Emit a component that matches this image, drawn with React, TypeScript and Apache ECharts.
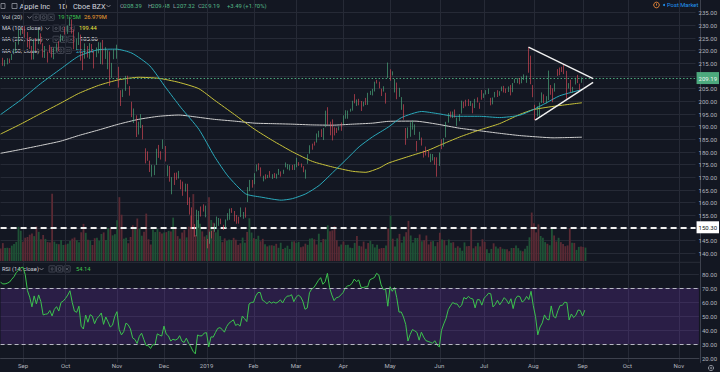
import React, { useEffect, useRef } from "react";
import * as echarts from "echarts";

// ---------- categories: trading days (data until 2019-09-04, then empty future bars) ----------
const tradingDays: [string, number[]][] = [
  ["2018-08", [20, 21, 22, 23, 24, 27, 28, 29, 30, 31]],
  ["2018-09", [4, 5, 6, 7, 10, 11, 12, 13, 14, 17, 18, 19, 20, 21, 24, 25, 26, 27, 28]],
  ["2018-10", [1, 2, 3, 4, 5, 8, 9, 10, 11, 12, 15, 16, 17, 18, 19, 22, 23, 24, 25, 26, 29, 30, 31]],
  ["2018-11", [1, 2, 5, 6, 7, 8, 9, 12, 13, 14, 15, 16, 19, 20, 21, 23, 26, 27, 28, 29, 30]],
  ["2018-12", [3, 4, 6, 7, 10, 11, 12, 13, 14, 17, 18, 19, 20, 21, 24, 26, 27, 28, 31]],
  ["2019-01", [2, 3, 4, 7, 8, 9, 10, 11, 14, 15, 16, 17, 18, 22, 23, 24, 25, 28, 29, 30, 31]],
  ["2019-02", [1, 4, 5, 6, 7, 8, 11, 12, 13, 14, 15, 19, 20, 21, 22, 25, 26, 27, 28]],
  ["2019-03", [1, 4, 5, 6, 7, 8, 11, 12, 13, 14, 15, 18, 19, 20, 21, 22, 25, 26, 27, 28, 29]],
  ["2019-04", [1, 2, 3, 4, 5, 8, 9, 10, 11, 12, 15, 16, 17, 18, 22, 23, 24, 25, 26, 29, 30]],
  ["2019-05", [1, 2, 3, 6, 7, 8, 9, 10, 13, 14, 15, 16, 17, 20, 21, 22, 23, 24, 28, 29, 30, 31]],
  ["2019-06", [3, 4, 5, 6, 7, 10, 11, 12, 13, 14, 17, 18, 19, 20, 21, 24, 25, 26, 27, 28]],
  ["2019-07", [1, 2, 3, 5, 8, 9, 10, 11, 12, 15, 16, 17, 18, 19, 22, 23, 24, 25, 26, 29, 30, 31]],
  ["2019-08", [1, 2, 5, 6, 7, 8, 9, 12, 13, 14, 15, 16, 19, 20, 21, 22, 23, 26, 27, 28, 29, 30]],
  ["2019-09", [3, 4, 5, 6, 9, 10, 11, 12, 13, 16, 17, 18, 19, 20, 23, 24, 25, 26, 27, 30]],
  ["2019-10", [1, 2, 3, 4, 7, 8, 9, 10, 11, 14, 15, 16, 17, 18, 21, 22, 23, 24, 25, 28, 29, 30, 31]],
  ["2019-11", [1, 4, 5, 6, 7, 8, 11, 12, 13, 14]],
];
const dates: string[] = tradingDays.flatMap(([m, days]) =>
  days.map((d) => `${m}-${String(d).padStart(2, "0")}`)
);
const monthNames = ["Jan", "Feb", "Mar", "Apr", "May", "Jun", "Jul", "Aug", "Sep", "Oct", "Nov", "Dec"];

// ---------- daily candles [open, high, low, close] ----------
const ohlc: number[][] = [
  // 2018-08
  [218.10, 219.18, 215.11, 215.46], [216.80, 217.19, 214.03, 215.04], [214.10, 216.36, 213.84, 215.05],
  [214.65, 217.05, 214.60, 215.49], [216.60, 216.90, 215.11, 216.16], [217.15, 218.74, 216.33, 217.94],
  [219.01, 220.54, 218.92, 219.70], [220.15, 223.49, 219.41, 222.98], [223.25, 228.26, 222.40, 225.03],
  [226.51, 228.87, 226.00, 227.63],
  // 2018-09
  [228.41, 229.18, 226.63, 228.36], [228.99, 229.67, 225.10, 226.87], [226.23, 227.35, 221.30, 223.10],
  [221.85, 225.37, 220.71, 221.30], [220.95, 221.85, 216.47, 218.33], [218.01, 224.30, 216.56, 223.85],
  [224.94, 225.00, 219.84, 221.07], [223.52, 228.35, 222.57, 226.41], [225.75, 226.84, 222.52, 223.84],
  [222.15, 222.95, 217.27, 217.88], [217.79, 221.85, 217.12, 218.24], [218.50, 219.62, 215.30, 218.37],
  [220.24, 222.28, 219.15, 220.03], [220.78, 221.36, 217.29, 217.66], [216.82, 221.26, 216.63, 220.79],
  [219.75, 222.82, 219.70, 222.19], [221.00, 223.75, 219.76, 220.42], [223.82, 226.44, 223.54, 224.95],
  [224.79, 225.84, 224.02, 225.74],
  // 2018-10
  [227.95, 229.42, 226.35, 227.26], [227.25, 230.00, 226.63, 229.28], [230.05, 233.47, 229.78, 232.07],
  [230.78, 232.35, 226.73, 227.99], [227.96, 228.41, 220.58, 224.29], [222.21, 224.80, 220.20, 223.77],
  [223.64, 227.27, 222.25, 226.87], [225.46, 226.35, 216.05, 216.36], [214.52, 219.50, 212.32, 214.45],
  [220.42, 222.88, 216.84, 222.11], [221.16, 221.83, 217.27, 217.36], [218.93, 222.99, 216.76, 222.15],
  [222.30, 222.64, 219.34, 221.19], [217.86, 219.74, 213.00, 216.02], [218.06, 221.26, 217.43, 219.31],
  [219.79, 223.36, 218.94, 220.65], [215.83, 223.25, 214.70, 222.73], [222.60, 224.23, 214.54, 215.09],
  [217.71, 221.38, 216.75, 219.80], [215.90, 220.19, 212.67, 216.30], [219.19, 219.69, 206.09, 212.24],
  [211.15, 215.18, 209.27, 213.30], [216.88, 220.45, 216.62, 218.86],
  // 2018-11
  [219.05, 222.36, 216.81, 222.22], [209.55, 213.65, 205.43, 207.48], [204.30, 204.39, 198.17, 201.59],
  [201.92, 204.72, 201.69, 203.77], [205.97, 210.06, 204.13, 209.95], [209.98, 210.12, 206.75, 208.49],
  [205.55, 206.01, 202.25, 204.47], [199.00, 199.85, 193.79, 194.17], [191.63, 197.18, 191.45, 192.23],
  [193.90, 194.48, 185.93, 186.80], [188.39, 191.97, 186.90, 191.41], [190.50, 194.97, 189.46, 193.53],
  [190.00, 190.70, 184.99, 185.86], [178.37, 181.47, 175.51, 176.98], [179.73, 180.27, 176.55, 176.78],
  [174.94, 176.60, 172.10, 172.29], [174.24, 174.95, 170.26, 174.62], [171.51, 174.77, 170.88, 174.24],
  [176.73, 181.29, 174.93, 180.94], [182.66, 182.80, 177.70, 179.55], [180.29, 180.33, 177.03, 178.58],
  // 2018-12
  [184.46, 184.94, 181.21, 184.82], [180.95, 182.39, 176.27, 176.69], [171.76, 174.78, 170.42, 174.72],
  [173.49, 174.49, 168.30, 168.49], [165.00, 170.09, 163.33, 169.60], [171.66, 171.79, 167.00, 168.63],
  [170.40, 171.92, 169.02, 169.10], [170.49, 172.57, 169.55, 170.95], [169.00, 169.08, 165.28, 165.48],
  [165.45, 168.35, 162.73, 163.94], [165.38, 167.53, 164.39, 166.07], [166.00, 167.45, 159.09, 160.89],
  [160.40, 162.11, 155.30, 156.83], [156.86, 158.16, 149.63, 150.73], [148.15, 151.55, 146.59, 146.83],
  [148.30, 157.23, 146.72, 157.17], [155.84, 156.77, 150.07, 156.15], [157.50, 158.52, 154.55, 156.23],
  [158.53, 159.36, 156.48, 157.74],
  // 2019-01
  [154.89, 158.85, 154.23, 157.92], [143.98, 145.72, 142.00, 142.19], [144.53, 148.55, 143.80, 148.26],
  [148.70, 148.83, 145.90, 147.93], [149.56, 151.82, 148.52, 150.75], [151.29, 154.53, 149.63, 153.31],
  [152.50, 153.97, 150.86, 153.80], [152.88, 153.70, 151.51, 152.29], [150.85, 151.27, 149.22, 150.00],
  [150.27, 153.39, 150.05, 153.07], [153.08, 155.88, 153.00, 154.94], [154.20, 157.66, 153.26, 155.86],
  [157.50, 157.88, 155.98, 156.82], [156.41, 156.73, 152.62, 153.30], [154.15, 155.14, 151.70, 153.92],
  [154.11, 154.48, 151.74, 152.70], [155.48, 158.13, 154.32, 157.76], [155.79, 156.33, 153.66, 156.30],
  [156.25, 158.13, 154.11, 154.68], [163.25, 166.15, 160.23, 165.25], [166.11, 169.00, 164.56, 166.44],
  // 2019-02
  [166.96, 168.98, 165.93, 166.52], [167.41, 171.66, 167.28, 171.25], [172.86, 175.08, 172.35, 174.18],
  [174.65, 175.57, 172.85, 174.24], [172.40, 173.94, 170.34, 170.94], [168.99, 170.66, 168.42, 170.41],
  [171.05, 171.21, 169.25, 169.43], [170.10, 171.00, 169.70, 170.89], [171.39, 172.48, 169.92, 170.18],
  [169.71, 171.26, 169.38, 170.80], [171.25, 171.70, 169.75, 170.42], [169.71, 171.44, 169.49, 170.93],
  [171.19, 173.32, 170.99, 172.03], [171.80, 172.37, 170.30, 171.06], [171.58, 173.00, 171.38, 172.97],
  [174.16, 175.87, 173.95, 174.23], [173.71, 175.30, 173.17, 174.33], [173.21, 175.00, 172.73, 174.87],
  [174.32, 174.91, 172.92, 173.15],
  // 2019-03
  [174.28, 175.15, 172.89, 174.97], [175.69, 177.75, 173.97, 175.85], [175.94, 176.00, 174.54, 175.53],
  [174.67, 175.49, 173.94, 174.52], [173.87, 174.44, 172.02, 172.50], [170.32, 173.07, 169.50, 172.91],
  [175.49, 179.12, 175.35, 178.90], [180.00, 182.67, 179.37, 180.91], [182.25, 183.30, 180.92, 181.71],
  [183.90, 184.10, 182.56, 183.73], [184.85, 187.33, 183.74, 186.12], [185.80, 188.39, 185.79, 188.02],
  [188.35, 188.99, 185.92, 186.53], [186.23, 189.49, 184.73, 188.16], [190.02, 196.33, 189.81, 195.09],
  [195.34, 197.69, 190.78, 191.05], [191.51, 191.98, 186.60, 188.74], [191.66, 192.88, 184.58, 186.79],
  [188.75, 189.76, 186.55, 188.47], [188.95, 189.56, 187.53, 188.72], [189.83, 190.08, 188.54, 189.95],
  // 2019-04
  [191.64, 191.68, 188.38, 191.24], [191.09, 194.46, 191.05, 194.02], [193.25, 196.50, 193.15, 195.35],
  [194.79, 196.37, 193.14, 195.69], [196.45, 197.10, 195.93, 197.00], [196.42, 200.23, 196.34, 200.10],
  [200.32, 202.85, 199.23, 199.50], [198.68, 200.74, 198.18, 200.62], [200.85, 201.00, 198.44, 198.95],
  [199.20, 200.14, 196.21, 198.87], [198.58, 199.85, 198.01, 199.23], [199.46, 201.37, 198.56, 199.25],
  [199.54, 203.38, 198.61, 203.13], [203.12, 204.15, 202.52, 203.86], [202.83, 204.94, 202.34, 204.53],
  [204.43, 207.75, 203.90, 207.48], [207.36, 208.48, 207.05, 207.16], [206.83, 207.76, 205.12, 205.28],
  [204.90, 205.00, 202.12, 204.30], [204.40, 205.97, 203.86, 204.61], [203.06, 203.40, 199.11, 200.67],
  // 2019-05
  [209.88, 215.31, 209.23, 210.52], [209.84, 212.65, 208.13, 209.15], [210.89, 211.84, 210.23, 211.75],
  [204.29, 208.84, 203.50, 208.48], [205.88, 207.42, 200.83, 202.86], [201.90, 205.34, 201.75, 202.90],
  [200.40, 201.68, 196.66, 200.72], [197.42, 198.85, 192.77, 197.18], [187.71, 189.48, 182.85, 185.72],
  [186.41, 189.70, 185.41, 188.66], [186.27, 191.75, 186.02, 190.92], [189.91, 192.47, 188.84, 190.08],
  [186.93, 190.90, 186.76, 189.00], [183.52, 184.35, 180.28, 183.09], [185.22, 188.00, 184.70, 186.60],
  [184.66, 185.71, 182.55, 182.78], [179.80, 180.54, 177.81, 179.66], [180.20, 182.14, 178.62, 178.97],
  [178.92, 180.59, 177.91, 178.23], [176.42, 179.35, 176.00, 177.38], [177.95, 179.23, 176.67, 178.30],
  [176.23, 177.99, 174.99, 175.07],
  // 2019-06
  [175.60, 177.92, 170.27, 173.30], [175.44, 179.83, 174.52, 179.64], [184.28, 184.99, 181.14, 182.54],
  [183.08, 185.47, 182.15, 185.22], [186.51, 191.92, 185.77, 190.15], [191.81, 195.37, 191.62, 192.58],
  [194.86, 196.00, 193.60, 194.81], [193.95, 195.97, 193.39, 194.19], [194.70, 196.79, 193.60, 194.15],
  [191.55, 193.59, 190.30, 192.74], [192.90, 194.96, 192.17, 193.89], [196.05, 200.29, 195.21, 198.45],
  [199.68, 199.88, 197.31, 197.87], [200.37, 200.61, 198.03, 199.46], [198.80, 200.85, 198.15, 198.78],
  [198.54, 200.16, 198.17, 198.58], [198.43, 199.26, 195.29, 195.57], [197.77, 200.99, 197.35, 199.80],
  [200.29, 201.57, 199.57, 199.74], [198.68, 199.50, 197.05, 197.92],
  // 2019-07
  [203.17, 204.49, 200.65, 201.55], [201.41, 203.13, 201.36, 202.73], [203.28, 204.44, 202.69, 204.41],
  [203.35, 205.08, 202.90, 204.23], [200.81, 201.40, 198.41, 200.02], [199.20, 201.51, 198.81, 201.24],
  [201.85, 203.73, 201.56, 203.23], [203.31, 204.39, 201.71, 201.75], [202.45, 204.00, 202.20, 203.30],
  [204.09, 205.87, 204.00, 205.21], [204.59, 206.11, 203.50, 204.50], [204.05, 205.09, 203.27, 203.35],
  [204.00, 205.88, 203.70, 205.66], [205.79, 206.50, 202.36, 202.59], [203.65, 207.23, 203.61, 207.22],
  [208.46, 208.91, 207.29, 208.84], [207.67, 209.15, 207.17, 208.67], [208.89, 209.24, 206.73, 207.02],
  [207.48, 209.73, 207.14, 207.74], [208.46, 210.64, 208.44, 209.68], [208.76, 210.16, 207.31, 208.78],
  [216.42, 221.37, 211.30, 213.04],
  // 2019-08
  [213.90, 218.03, 206.74, 208.43], [205.53, 206.43, 201.63, 204.02], [197.99, 198.65, 192.58, 193.34],
  [196.31, 198.07, 194.04, 197.00], [195.41, 199.56, 193.82, 199.04], [200.20, 203.53, 199.39, 203.43],
  [201.30, 202.76, 199.29, 200.99], [199.62, 202.05, 199.15, 200.48], [201.02, 212.14, 200.48, 208.97],
  [203.16, 206.44, 202.59, 202.75], [203.46, 205.14, 199.67, 201.74], [204.28, 207.16, 203.84, 206.50],
  [210.62, 212.73, 210.03, 210.35], [210.88, 213.35, 210.32, 210.36], [212.99, 213.65, 211.60, 212.64],
  [213.19, 214.44, 210.75, 212.46], [209.43, 212.05, 201.00, 202.64], [205.86, 207.19, 205.06, 206.49],
  [207.86, 208.55, 203.53, 204.16], [204.10, 205.72, 203.32, 205.53], [208.50, 209.32, 206.66, 209.01],
  [210.16, 210.45, 207.20, 208.74],
  // 2019-09
  [206.43, 206.98, 204.22, 205.70], [208.39, 209.48, 207.32, 209.19],
];

// ---------- daily volume, millions ----------
const volumes: number[] = [
  18.0, 25.6, 18.5, 18.9, 18.5, 22.0, 24.3, 27.3, 48.8, 43.3,
  27.4, 33.3, 34.3, 37.6, 39.5, 35.6, 49.3, 41.7, 31.0, 37.2, 31.6, 27.1, 26.6, 96.2, 27.7, 24.6, 24.0, 30.2, 22.9,
  23.6, 24.8, 28.6, 32.0, 33.6, 29.7, 26.9, 41.1, 53.1, 40.3, 30.3, 29.2, 22.9, 32.6, 33.1, 28.8, 38.7, 40.9, 29.9, 47.3, 45.9, 36.7, 38.4,
  58.3, 91.3, 66.2, 31.9, 33.2, 25.4, 34.4, 51.1, 46.9, 60.8, 46.5, 36.2, 41.9, 67.8, 31.1, 23.6, 44.9, 41.4, 46.1, 41.8, 39.5,
  40.8, 41.3, 43.1, 42.3, 62.0, 47.3, 35.6, 31.9, 40.7, 44.3, 33.8, 49.0, 64.8, 95.7, 37.2, 58.6, 53.1, 42.3, 35.0,
  37.0, 91.3, 58.6, 54.8, 41.0, 45.1, 35.8, 27.0, 32.4, 28.7, 30.6, 29.8, 33.1, 30.4, 23.1, 25.4, 33.5, 26.2, 41.6, 61.1, 40.7,
  32.7, 31.5, 36.1, 28.2, 31.7, 23.8, 20.9, 22.3, 22.5, 21.8, 24.6, 18.9, 26.1, 17.2, 18.9, 21.9, 17.1, 27.8, 28.2,
  25.9, 27.4, 19.7, 20.8, 24.8, 23.1, 32.0, 32.5, 31.0, 23.6, 39.0, 26.9, 31.6, 31.0, 51.0, 42.4, 43.8, 49.8, 29.8, 20.8, 23.6,
  27.9, 23.0, 23.3, 19.1, 18.5, 25.9, 35.8, 21.7, 20.9, 27.8, 17.5, 25.7, 28.9, 24.2, 19.4, 23.3, 17.5, 18.5, 18.6, 22.2, 46.5,
  64.8, 31.9, 20.9, 32.4, 38.8, 26.3, 34.9, 41.2, 57.4, 36.5, 26.5, 33.0, 32.9, 38.0, 28.4, 29.7, 36.5, 23.7, 27.9, 28.5, 21.2, 27.0,
  40.4, 30.9, 29.8, 22.5, 30.7, 26.2, 26.9, 18.9, 21.1, 18.8, 14.7, 26.6, 21.1, 21.5, 47.8, 18.2, 21.1, 26.1, 20.9, 31.1,
  27.3, 16.9, 11.4, 17.3, 25.3, 20.7, 17.9, 20.2, 17.6, 16.9, 16.9, 14.1, 18.6, 18.6, 22.3, 18.4, 14.9, 13.9, 17.6, 21.7, 33.9, 69.3,
  54.0, 40.9, 52.4, 35.8, 33.4, 27.0, 24.6, 22.5, 47.2, 36.5, 27.9, 33.2, 27.0, 24.3, 21.2, 22.3, 46.8, 26.0, 25.9, 15.9, 20.2, 20.6,
  20.1, 19.175,
];

// closes before the visible window (Jul 2 – Aug 17, 2018), used to warm up RSI
const priorCloses: number[] = [
  187.18, 183.92, 185.40, 187.97, 190.58, 190.35, 187.88, 191.03, 191.33, 190.91, 191.45, 190.40,
  191.88, 191.44, 191.61, 193.00, 194.82, 194.21, 190.98, 189.91, 190.29,
  201.50, 207.39, 207.99, 209.07, 207.11, 207.25, 208.88, 207.53, 208.87, 209.75, 210.24, 213.32, 217.58,
];

// ---------- moving averages ----------
const ma50: [string, number][] = [
  ["2018-08-20", 194.8], ["2018-08-31", 200.5], ["2018-09-14", 207.0], ["2018-09-27", 212.8],
  ["2018-10-09", 217.8], ["2018-10-22", 220.4], ["2018-11-01", 220.6], ["2018-11-12", 219.0],
  ["2018-11-23", 214.0], ["2018-12-04", 205.6], ["2018-12-14", 197.5], ["2018-12-27", 189.0],
  ["2019-01-08", 178.3], ["2019-01-16", 170.6], ["2019-01-29", 163.5], ["2019-02-07", 162.2],
  ["2019-02-21", 161.0], ["2019-02-28", 161.6], ["2019-03-08", 163.5], ["2019-03-18", 166.8],
  ["2019-03-26", 171.8], ["2019-04-03", 176.9], ["2019-04-11", 182.1], ["2019-04-22", 186.0],
  ["2019-05-01", 189.8], ["2019-05-09", 193.6], ["2019-05-22", 196.0], ["2019-06-03", 195.2],
  ["2019-06-13", 194.1], ["2019-06-28", 194.1], ["2019-07-12", 193.6], ["2019-07-25", 194.5],
  ["2019-08-02", 196.7], ["2019-08-12", 199.4], ["2019-08-20", 202.2], ["2019-09-04", 204.64],
];
const ma100: [string, number][] = [
  ["2018-08-20", 187.1], ["2018-08-31", 191.0], ["2018-09-14", 195.2], ["2018-09-27", 199.3],
  ["2018-10-09", 203.1], ["2018-10-22", 206.3], ["2018-11-02", 208.5], ["2018-11-15", 209.5],
  ["2018-11-29", 209.1], ["2018-12-13", 207.5], ["2018-12-27", 205.0], ["2019-01-08", 200.5],
  ["2019-01-22", 194.8], ["2019-02-04", 189.0], ["2019-02-14", 184.6], ["2019-02-28", 180.1],
  ["2019-03-13", 176.3], ["2019-03-26", 174.1], ["2019-04-08", 172.4], ["2019-04-16", 172.0],
  ["2019-04-25", 173.7], ["2019-05-01", 175.6], ["2019-05-14", 178.2], ["2019-05-28", 180.7],
  ["2019-06-04", 182.6], ["2019-06-17", 185.9], ["2019-06-28", 188.7], ["2019-07-12", 191.2],
  ["2019-07-25", 194.8], ["2019-08-02", 196.7], ["2019-08-15", 198.0], ["2019-09-04", 199.44],
];
const ma200: [string, number][] = [
  ["2018-08-20", 179.5], ["2018-08-31", 181.0], ["2018-09-14", 182.6], ["2018-09-27", 184.3],
  ["2018-10-09", 186.5], ["2018-10-22", 188.7], ["2018-11-02", 191.0], ["2018-11-15", 192.9],
  ["2018-11-29", 194.1], ["2018-12-13", 194.6], ["2018-12-26", 193.8], ["2019-01-08", 192.9],
  ["2019-01-22", 192.2], ["2019-02-04", 191.4], ["2019-02-14", 191.2], ["2019-02-28", 191.0],
  ["2019-03-13", 190.7], ["2019-03-26", 190.6], ["2019-04-08", 191.0], ["2019-04-22", 191.4],
  ["2019-05-01", 192.1], ["2019-05-17", 192.2], ["2019-06-03", 191.0], ["2019-06-17", 189.4],
  ["2019-06-28", 188.4], ["2019-07-12", 187.4], ["2019-07-25", 186.5], ["2019-08-07", 185.9],
  ["2019-08-15", 185.6], ["2019-09-04", 185.86],
];

// ---------- drawings ----------
const triangleUpper: [string, number][] = [["2019-07-31", 221.37], ["2019-09-11", 208.95]];
const triangleLower: [string, number][] = [["2019-08-05", 192.58], ["2019-09-11", 207.5]];
const lastClose = 209.19;
const supportLevel = 150.3;

// legend texts
const header = { name: "Apple Inc", interval: "1D", exchange: "Cboe BZX" };
const ohlcLegend = [["O", "208.39"], ["H", "209.48"], ["L", "207.32"], ["C", "209.19"]];
const changeText = "+3.49 (+1.70%)";
const volLegend = ["19.175M", "26.979M"];
const rsiLegend = "54.14";

// ---------- style ----------
const BG = "#131722";
const GRID = "#262a36";
const AXIS = "#3d414d";
const TXT = "#d1d4dc";
const MUTED = "#9598a1";
const UP = "#53b987";
const DOWN = "#eb4d5c";
const VUP = "#1f5236";
const VDOWN = "#5a2a34";
const FONT = 'Roboto, "Liberation Sans", Arial, sans-serif';

function computeRsi(closes: number[], period: number): (number | null)[] {
  const out: (number | null)[] = closes.map(() => null);
  let g = 0;
  let l = 0;
  for (let i = 1; i <= period; i++) {
    const d = closes[i] - closes[i - 1];
    if (d > 0) g += d;
    else l -= d;
  }
  g /= period;
  l /= period;
  out[period] = l === 0 ? 100 : 100 - 100 / (1 + g / l);
  for (let i = period + 1; i < closes.length; i++) {
    const d = closes[i] - closes[i - 1];
    g = (g * (period - 1) + Math.max(d, 0)) / period;
    l = (l * (period - 1) + Math.max(-d, 0)) / period;
    out[i] = l === 0 ? 100 : 100 - 100 / (1 + g / l);
  }
  return out;
}

const isMonthStart = (i: number) => i > 0 && dates[i].slice(0, 7) !== dates[i - 1].slice(0, 7);
const monthLabel = (d: string) => {
  const [y, m] = d.split("-");
  return m === "01" ? y : monthNames[Number(m) - 1];
};

function legendText(x: number, y: number, text: string, fill: string, size = 5.8) {
  return {
    type: "text",
    x,
    y,
    silent: true,
    style: { text, fill, fontSize: size, fontFamily: FONT, verticalAlign: "middle", align: "left" },
  };
}
function chevron(x: number, y: number) {
  return {
    type: "polyline",
    silent: true,
    shape: { points: [[x, y - 1], [x + 2, y + 1], [x + 4, y - 1]] },
    style: { stroke: MUTED, lineWidth: 0.8, fill: "none" },
  };
}
function boxes(x: number, y: number) {
  const out: any[] = [];
  for (let k = 0; k < 3; k++) {
    const bx = x + k * 7.5;
    out.push({
      type: "rect",
      silent: true,
      shape: { x: bx, y: y - 3.2, width: 6.2, height: 6.2, r: 0.6 },
      style: { fill: "rgba(0,0,0,0)", stroke: "#4a4e5a", lineWidth: 0.8 },
    });
    if (k < 2) {
      out.push({
        type: "circle",
        silent: true,
        shape: { cx: bx + 3.1, cy: y, r: k === 0 ? 1.1 : 1.5 },
        style: { fill: "none", stroke: "#6a6e7a", lineWidth: 0.7 },
      });
    } else {
      out.push({ type: "line", silent: true, shape: { x1: bx + 1.6, y1: y - 1.5, x2: bx + 4.6, y2: y + 1.5 }, style: { stroke: "#6a6e7a", lineWidth: 0.7 } });
      out.push({ type: "line", silent: true, shape: { x1: bx + 4.6, y1: y - 1.5, x2: bx + 1.6, y2: y + 1.5 }, style: { stroke: "#6a6e7a", lineWidth: 0.7 } });
    }
  }
  return out;
}

export default function App() {
  const ref = useRef<HTMLDivElement>(null);

  useEffect(() => {
    document.body.style.margin = "0";
    if (!ref.current) return;
    const chart = echarts.init(ref.current, null, { renderer: "svg" });

    const closes = ohlc.map((r) => r[3]);
    const rsi = computeRsi([...priorCloses, ...closes], 14).slice(priorCloses.length);
    const candleData = ohlc.map(([o, h, l, c]) => [o, c, l, h]);
    const volData = volumes.map((v, i) => ({
      value: v,
      itemStyle: { color: ohlc[i][3] >= ohlc[i][0] ? VUP : VDOWN },
    }));

    const L = 0.59;
    const R = 20.21;
    const hiddenX = (gridIndex: number) => ({
      type: "category",
      gridIndex,
      data: dates,
      boundaryGap: false,
      show: false,
    });

    const maLine = (data: [string, number][], color: string) => ({
      type: "line",
      xAxisIndex: 0,
      yAxisIndex: 0,
      data,
      smooth: 0.2,
      showSymbol: false,
      symbol: "none",
      silent: true,
      z: 4,
      lineStyle: { color, width: 1 },
    });
    const drawLine = (data: [string, number][]) => ({
      type: "line",
      xAxisIndex: 0,
      yAxisIndex: 0,
      data,
      symbol: "none",
      silent: true,
      z: 6,
      lineStyle: { color: "#f2f2f2", width: 1.4 },
    });

    const y1 = 6;
    const rows = [17.3, 28.4, 39.4, 50.5];
    const rsiY = 269;

    const graphic: any[] = [
      // pane separator
      { type: "line", silent: true, shape: { x1: 0, y1: 262.3, x2: 700, y2: 262.3 }, style: { stroke: "#2a2e39", lineWidth: 1 } },
      // header icons
      { type: "rect", silent: true, shape: { x: 1, y: 3.5, width: 4, height: 5 }, style: { fill: "none", stroke: MUTED, lineWidth: 0.8 } },
      { type: "rect", silent: true, shape: { x: 12, y: 3.5, width: 5, height: 5 }, style: { fill: "none", stroke: MUTED, lineWidth: 0.8 } },
      legendText(19.5, y1, header.name, TXT, 7.4),
      legendText(58, y1, header.interval, TXT, 7.4),
      legendText(73, y1, header.exchange, TXT, 7.4),
      chevron(106.5, y1),
      legendText(227, y1, changeText, UP, 5.9),
      // Vol legend
      legendText(2, rows[0], "Vol (20)", TXT),
      chevron(27.5, rows[0]),
      ...boxes(33, rows[0]),
      legendText(58, rows[0], volLegend[0], "#3fc44f"),
      legendText(84, rows[0], volLegend[1], "#f0a030"),
      // MA legends
      legendText(2, rows[1], "MA (100, close)", TXT),
      chevron(45.5, rows[1]),
      ...boxes(53, rows[1]),
      legendText(79, rows[1], ma100[ma100.length - 1][1].toFixed(2), "#ece63e"),
      legendText(2, rows[2], "MA (200, close)", TXT),
      chevron(45.5, rows[2]),
      ...boxes(53, rows[2]),
      legendText(80, rows[2], ma200[ma200.length - 1][1].toFixed(2), "#e8e8e8"),
      legendText(2, rows[3], "MA (50, close)", TXT),
      chevron(42, rows[3]),
      ...boxes(50, rows[3]),
      legendText(76, rows[3], ma50[ma50.length - 1][1].toFixed(2), "#2fb8cc"),
      // RSI legend
      legendText(2, rsiY, "RSI (14, close)", TXT),
      chevron(39.5, rsiY),
      ...boxes(49, rsiY),
      legendText(76, rsiY, rsiLegend, "#3fc44f"),
      // top-right
      { type: "circle", silent: true, shape: { cx: 656.5, cy: 5, r: 2.8 }, style: { fill: "none", stroke: "#f08c3a", lineWidth: 0.9 } },
      { type: "line", silent: true, shape: { x1: 656.5, y1: 3.4, x2: 656.5, y2: 5.6 }, style: { stroke: "#f08c3a", lineWidth: 0.8 } },
      { type: "circle", silent: true, shape: { cx: 664, cy: 5, r: 1 }, style: { fill: "#2196f3" } },
      legendText(667, 5, "Post Market", "#2196f3", 5.8),
      // gear icon bottom-right
      { type: "circle", silent: true, shape: { cx: 711, cy: 368, r: 2.6 }, style: { fill: "none", stroke: MUTED, lineWidth: 0.9 } },
      { type: "circle", silent: true, shape: { cx: 711, cy: 368, r: 0.9 }, style: { fill: "none", stroke: MUTED, lineWidth: 0.7 } },
    ];
    ohlcLegend.forEach(([k, v], i) => {
      const x = [120, 148, 173, 198][i];
      graphic.push(legendText(x, y1, k, MUTED, 5.9));
      graphic.push(legendText(x + 3.6, y1, v, UP, 5.9));
    });

    const option: any = {
      animation: false,
      backgroundColor: BG,
      textStyle: { fontFamily: FONT },
      grid: [
        { left: L, right: R, top: -8.05, height: 274.1 },
        { left: L, right: R, top: 161, height: 100 },
        { left: L, right: R, top: 260, height: 116 },
        { left: L, right: R, top: 0, height: 362.5 },
      ],
      xAxis: [
        hiddenX(0),
        hiddenX(1),
        {
          type: "category",
          gridIndex: 2,
          data: dates,
          boundaryGap: false,
          offset: -13.5,
          axisLine: { show: true, lineStyle: { color: AXIS, width: 1 } },
          axisTick: { show: false },
          splitLine: { show: false },
          axisLabel: {
            interval: (i: number) => isMonthStart(i),
            formatter: (v: string) => monthLabel(v),
            color: "#b2b5be",
            fontSize: 6,
            margin: 4,
          },
        },
        {
          type: "category",
          gridIndex: 3,
          data: dates,
          boundaryGap: false,
          axisLine: { show: false },
          axisTick: { show: false },
          axisLabel: { show: false },
          splitLine: {
            show: true,
            interval: (i: number) => isMonthStart(i),
            lineStyle: { color: GRID, width: 1 },
          },
        },
      ],
      yAxis: [
        {
          type: "value",
          gridIndex: 0,
          position: "right",
          min: 135,
          max: 240,
          interval: 5,
          axisLine: { show: false },
          axisTick: { show: false },
          splitLine: { show: true, showMinLine: false, showMaxLine: false, lineStyle: { color: GRID, width: 1 } },
          axisLabel: {
            color: "#b2b5be",
            fontSize: 6,
            margin: 3,
            showMinLabel: false,
            showMaxLabel: false,
            formatter: (v: number) => (v < 140 || v > 235 || v === 150 || v === 210 ? "" : v.toFixed(2)),
          },
        },
        { type: "value", gridIndex: 1, min: 0, max: 143, show: false },
        {
          type: "value",
          gridIndex: 2,
          position: "right",
          min: 10,
          max: 90,
          interval: 10,
          axisLine: { show: false },
          axisTick: { show: false },
          splitLine: { show: true, showMinLine: false, showMaxLine: false, lineStyle: { color: GRID, width: 1 } },
          axisLabel: {
            color: "#b2b5be",
            fontSize: 6,
            margin: 3,
            showMinLabel: false,
            showMaxLabel: false,
            formatter: (v: number) => (v < 20 || v > 80 ? "" : v.toFixed(2)),
          },
        },
        {
          type: "value",
          gridIndex: 3,
          position: "right",
          min: 0,
          max: 1,
          axisLine: { show: true, lineStyle: { color: AXIS, width: 1 } },
          axisTick: { show: false },
          axisLabel: { show: false },
          splitLine: { show: false },
        },
      ],
      series: [
        {
          type: "bar",
          xAxisIndex: 1,
          yAxisIndex: 1,
          data: volData,
          barWidth: 1.8,
          silent: true,
          z: 2,
        },
        maLine(ma200, "#cfcfcf"),
        maLine(ma100, "#c8c23a"),
        maLine(ma50, "#2aa8ba"),
        {
          type: "candlestick",
          xAxisIndex: 0,
          yAxisIndex: 0,
          data: candleData,
          barWidth: 1.3,
          silent: true,
          z: 5,
          itemStyle: { color: UP, color0: DOWN, borderColor: UP, borderColor0: DOWN, borderWidth: 0.6 },
          markLine: {
            silent: true,
            symbol: ["none", "none"],
            animation: false,
            data: [
              {
                yAxis: lastClose,
                lineStyle: { color: UP, type: [1.5, 2], width: 1, opacity: 0.9 },
                label: {
                  show: true,
                  position: "end",
                  distance: 1,
                  formatter: lastClose.toFixed(2),
                  backgroundColor: UP,
                  color: "#ffffff",
                  fontSize: 6,
                  padding: [3, 2, 3, 2],
                },
              },
              {
                yAxis: supportLevel,
                lineStyle: { color: "#f0f0f0", type: [6, 4], width: 1.8 },
                label: {
                  show: true,
                  position: "end",
                  distance: 1,
                  formatter: supportLevel.toFixed(2),
                  backgroundColor: "#ffffff",
                  color: BG,
                  fontSize: 6,
                  padding: [3, 2, 3, 2],
                },
              },
            ],
          },
        },
        drawLine(triangleUpper),
        drawLine(triangleLower),
        {
          type: "line",
          xAxisIndex: 2,
          yAxisIndex: 2,
          data: [],
          silent: true,
          z: 1,
          markArea: {
            silent: true,
            itemStyle: { color: "rgba(134,58,214,0.2)" },
            data: [[{ yAxis: 30 }, { yAxis: 70 }]],
          },
          markLine: {
            silent: true,
            symbol: ["none", "none"],
            label: { show: false },
            lineStyle: { color: "#b8b8c4", type: [4, 3], width: 1 },
            data: [{ yAxis: 70 }, { yAxis: 30 }],
          },
        },
        {
          type: "line",
          xAxisIndex: 2,
          yAxisIndex: 2,
          data: rsi,
          symbol: "none",
          silent: true,
          z: 4,
          lineStyle: { color: "#3cc24e", width: 1 },
        },
      ],
      graphic,
    };

    chart.setOption(option);
    return () => chart.dispose();
  }, []);

  return <div ref={ref} style={{ width: 720, height: 372 }} />;
}
